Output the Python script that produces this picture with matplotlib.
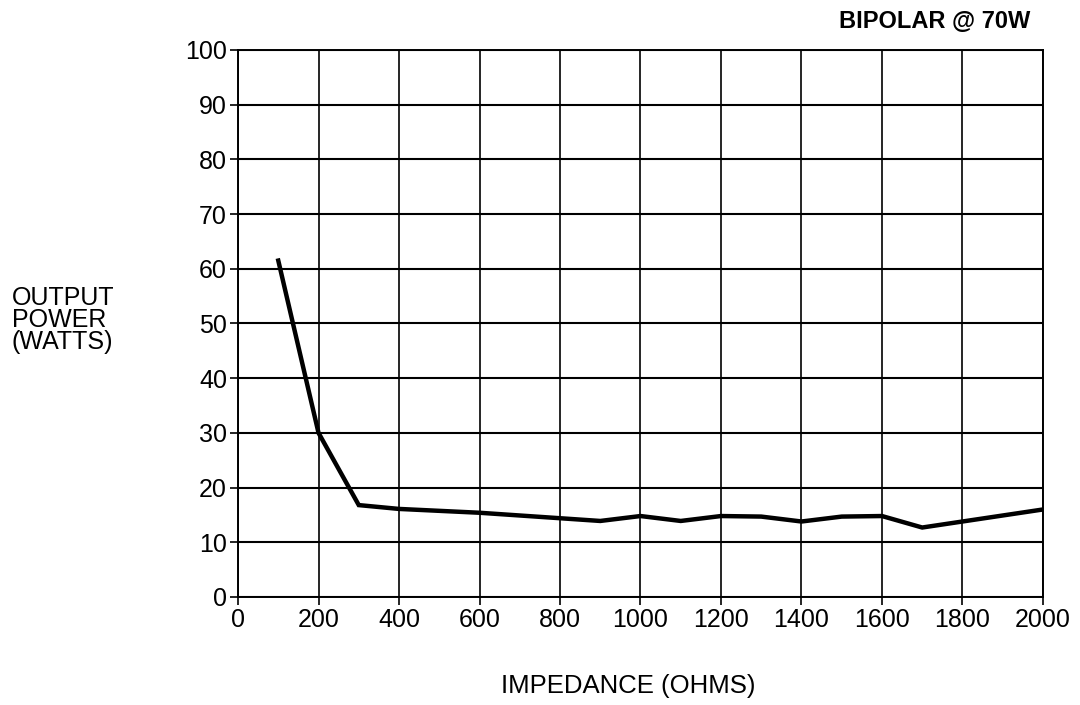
import matplotlib
matplotlib.use("Agg")
import matplotlib.pyplot as plt

plt.rcParams['font.family'] = ['Liberation Sans', 'DejaVu Sans']

# impedance (ohms) and output power (watts)
impedance = [100, 200, 300, 400, 600, 800, 900, 1000, 1100, 1200, 1300,
             1400, 1500, 1600, 1700, 1800, 2000]
power = [61.5, 30, 16.8, 16.1, 15.4, 14.4, 13.9, 14.8, 13.9, 14.8, 14.7,
         13.8, 14.7, 14.8, 12.7, 13.8, 16.0]

x_ticks = list(range(0, 2001, 200))
y_ticks = list(range(0, 101, 10))

fig = plt.figure(figsize=(10.8, 7.05), dpi=100)
ax = fig.add_axes([0.2204, 0.1532, 0.7453, 0.7759])

ax.plot(impedance, power, color="black", lw=3.2, solid_joinstyle="miter")

ax.set_xlim(0, 2000)
ax.set_ylim(0, 100)
ax.set_xticks(x_ticks)
ax.set_yticks(y_ticks)
ax.grid(True, axis="x", color="black", lw=1.2)
ax.grid(True, axis="y", color="black", lw=1.5)
ax.tick_params(direction="out", length=6, width=1.2,
               labelsize=18, pad=2, color="black")
for s in ax.spines.values():
    s.set_color("black")
    s.set_linewidth(1.4)

fig.text(0.954, 0.970, "BIPOLAR @ 70W", ha="right", va="center",
         fontsize=17, fontweight="bold")
fig.text(0.011, 0.546, "OUTPUT\nPOWER\n(WATTS)", ha="left", va="center",
         fontsize=18, linespacing=0.88)
fig.text(0.582, 0.027, "IMPEDANCE (OHMS)", ha="center", va="center",
         fontsize=18.5)

fig.savefig("out.png", dpi=100)
